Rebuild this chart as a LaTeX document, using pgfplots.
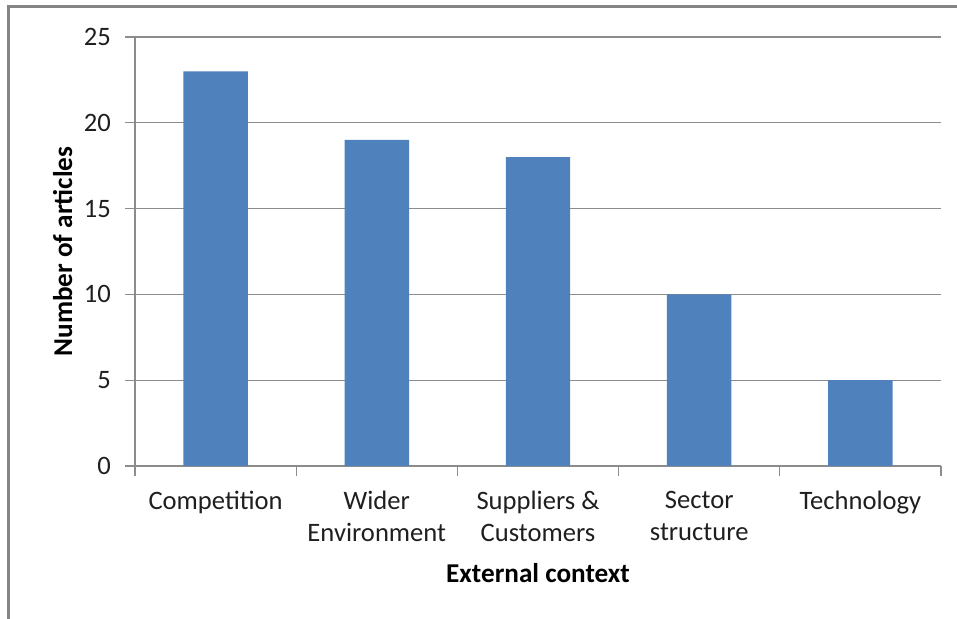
\documentclass[border=0pt]{standalone}
\usepackage{fontspec}
\setmainfont{Carlito}
\usepackage{pgfplots}
\pgfplotsset{compat=1.18}
\definecolor{barblue}{HTML}{4F81BD}
\definecolor{gridgray}{HTML}{8C8C8C}
\definecolor{framegray}{HTML}{858585}
\begin{document}
\begin{tikzpicture}
\path[use as bounding box] (0,0) rectangle (478.5pt,309.5pt);
\draw[framegray, line width=1.5pt] (4pt,0) -- (4pt,306pt) -- (478.5pt,306pt);
\begin{axis}[
  at={(67.5pt,76.5pt)}, anchor=south west,
  scale only axis, width=403pt, height=214.5pt,
  xmin=-0.5, xmax=4.5, ymin=0, ymax=25,
  axis x line*=bottom, axis y line*=left,
  axis line style={gridgray, line width=0.6pt},
  ytick={0,5,10,15,20,25},
  ymajorgrids, grid style={gridgray, line width=0.6pt},
  major tick length=5pt,
  tick style={gridgray, line width=0.6pt},
  tick align=outside,
  xtick={-0.5,0.5,1.5,2.5,3.5,4.5},
  x tick label as interval,
  xticklabels={Competition, Wider\\Environment, Suppliers \&\\Customers, Sector\\structure, Technology},
  x tick label style={align=center, font=\fontsize{13.3}{16}\selectfont, yshift=-4pt, text=black!88},
  y tick label style={font=\fontsize{13.3}{16}\selectfont, xshift=-3.5pt, text=black!88},
  /pgf/number format/assume math mode=true,
  xlabel={\textbf{External context}},
  ylabel={\textbf{Number of articles}},
  xlabel style={font=\fontsize{13.6}{16}\selectfont, yshift=-4pt},
  ylabel style={font=\fontsize{13.6}{16}\selectfont, yshift=-1pt},
  ybar, bar width=0.4,
]
\addplot[fill=barblue, draw=none] coordinates {(0,23) (1,19) (2,18) (3,10) (4,5)};
\end{axis}
\end{tikzpicture}
\end{document}
